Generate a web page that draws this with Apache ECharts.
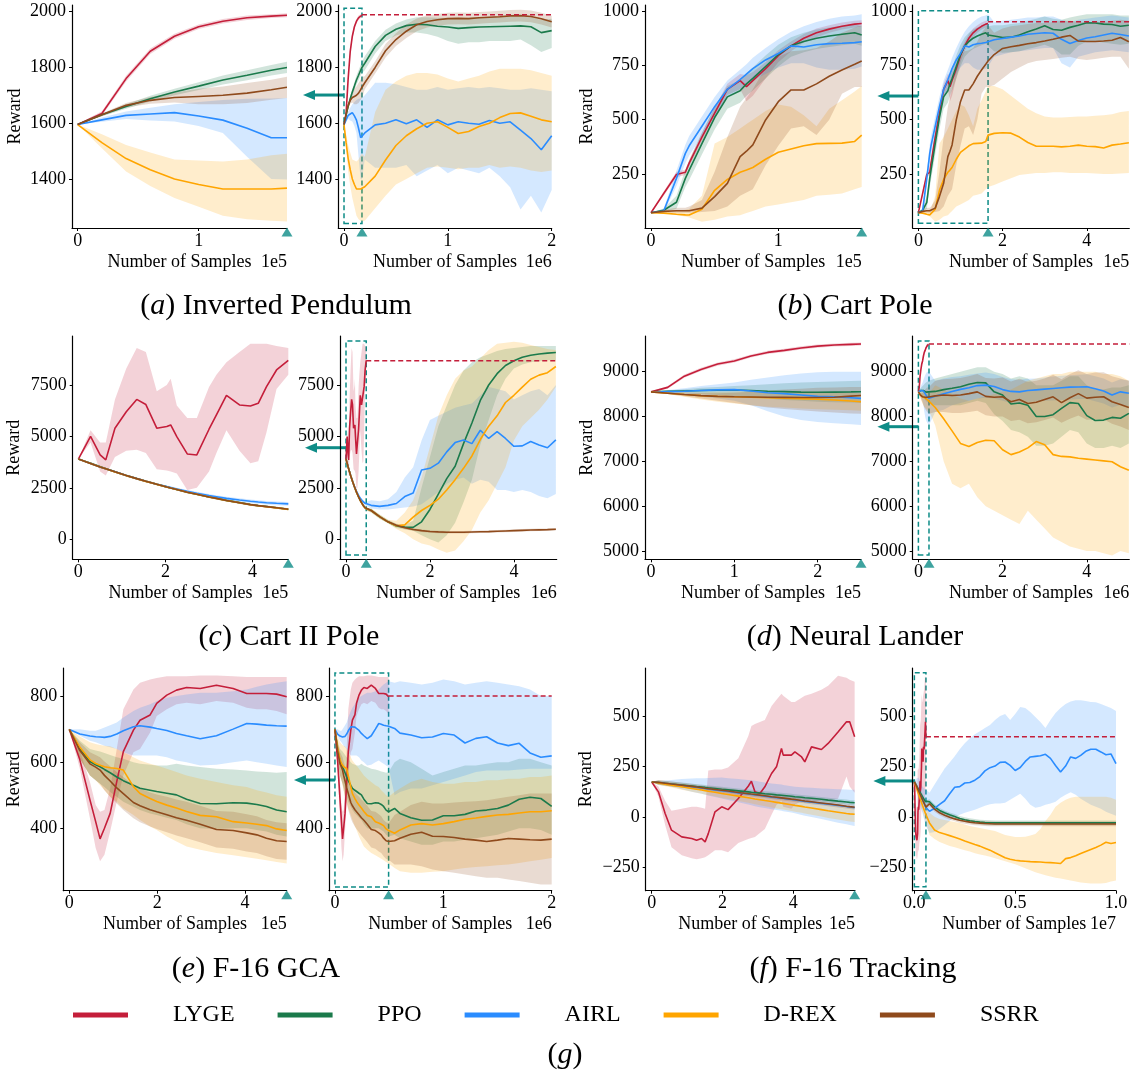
<!DOCTYPE html>
<html>
<head>
<meta charset="utf-8">
<title>Reward curves</title>
<script src="https://cdn.jsdelivr.net/npm/echarts@6/dist/echarts.min.js"></script>
<style>
    html, body { margin: 0; padding: 0; background: #fff; }
    #chart { width: 1135px; height: 1076px; }
</style>
</head>
<body>
<div id="chart"></div>
<script>
// 方法名称与配色
const methods = ['LYGE', 'PPO', 'AIRL', 'D-REX', 'SSRR'];
const methodColors = ['#c41e3a', '#1b7a4b', '#2a8cff', '#ffa500', '#8f4a1c'];
const TEAL = '#0e8c87';
const FONT = '"Liberation Serif", "Times New Roman", serif';
const BAND_ALPHA = 0.2;

// ---------- (a) Inverted Pendulum ----------
const pendZoomX = [0, 20000, 40000, 60000, 80000, 100000, 120000, 140000, 160000, 173000];
const pendZoomMean = [
    [1595, 1635, 1760, 1858, 1912, 1946, 1966, 1978, 1984, 1987],
    [1595, 1630, 1660, 1688, 1712, 1733, 1755, 1772, 1790, 1800],
    [1595, 1612, 1628, 1633, 1638, 1626, 1611, 1582, 1548, 1548],
    [1595, 1530, 1473, 1433, 1400, 1380, 1364, 1364, 1364, 1367],
    [1595, 1630, 1664, 1682, 1692, 1696, 1700, 1708, 1720, 1729]
];
const pendZoomLo = [
    [1593, 1627, 1750, 1848, 1903, 1938, 1958, 1970, 1977, 1980],
    [1595, 1625, 1652, 1678, 1700, 1719, 1739, 1754, 1771, 1780],
    [1595, 1605, 1615, 1610, 1606, 1590, 1565, 1480, 1400, 1398],
    [1595, 1510, 1427, 1375, 1332, 1300, 1268, 1255, 1250, 1247],
    [1595, 1625, 1656, 1670, 1674, 1668, 1668, 1672, 1684, 1690]
];
const pendZoomHi = [
    [1597, 1643, 1770, 1868, 1921, 1954, 1974, 1986, 1991, 1994],
    [1595, 1635, 1668, 1698, 1724, 1747, 1771, 1790, 1809, 1820],
    [1595, 1620, 1642, 1655, 1668, 1676, 1683, 1688, 1689, 1690],
    [1595, 1560, 1522, 1495, 1470, 1466, 1463, 1470, 1485, 1490],
    [1595, 1635, 1672, 1694, 1710, 1724, 1732, 1744, 1756, 1767]
];
const pendTailX = [200000, 300000, 400000, 500000, 600000, 700000, 800000, 900000, 1000000, 1100000, 1200000, 1300000, 1400000, 1500000, 1600000, 1700000, 1800000, 1900000, 2000000];
const pendTailMean = [
    null,
    [1815, 1875, 1915, 1937, 1950, 1955, 1953, 1948, 1945, 1940, 1943, 1945, 1946, 1947, 1948, 1949, 1946, 1925, 1932],
    [1565, 1594, 1600, 1612, 1598, 1612, 1585, 1612, 1594, 1605, 1600, 1596, 1610, 1600, 1605, 1575, 1545, 1505, 1555],
    [1372, 1410, 1468, 1520, 1555, 1580, 1600, 1605, 1585, 1563, 1570, 1588, 1600, 1620, 1635, 1637, 1625, 1612, 1605],
    [1745, 1800, 1860, 1900, 1930, 1953, 1965, 1971, 1975, 1976, 1975, 1978, 1980, 1982, 1985, 1986, 1983, 1975, 1964]
];
const pendTailLo = [
    null,
    [1790, 1850, 1895, 1915, 1925, 1925, 1920, 1910, 1895, 1885, 1890, 1890, 1895, 1895, 1895, 1900, 1880, 1855, 1870],
    [1470, 1440, 1440, 1440, 1450, 1410, 1430, 1450, 1420, 1440, 1430, 1420, 1440, 1410, 1370, 1290, 1340, 1280, 1360],
    [1250, 1295, 1340, 1380, 1400, 1420, 1440, 1445, 1440, 1435, 1440, 1440, 1450, 1440, 1445, 1440, 1430, 1425, 1430],
    [1722, 1778, 1836, 1877, 1906, 1930, 1943, 1950, 1954, 1955, 1954, 1957, 1959, 1961, 1964, 1965, 1962, 1954, 1943]
];
const pendTailHi = [
    null,
    [1840, 1895, 1935, 1958, 1972, 1980, 1980, 1978, 1978, 1976, 1978, 1980, 1982, 1982, 1982, 1982, 1980, 1970, 1975],
    [1700, 1745, 1745, 1740, 1730, 1720, 1720, 1730, 1720, 1725, 1730, 1725, 1730, 1725, 1720, 1720, 1725, 1720, 1715],
    [1480, 1640, 1720, 1750, 1770, 1780, 1780, 1775, 1760, 1750, 1760, 1770, 1785, 1795, 1795, 1795, 1790, 1780, 1770],
    [1768, 1822, 1884, 1923, 1954, 1976, 1987, 1992, 1996, 1997, 1996, 1999, 2001, 2003, 2006, 2007, 2004, 1996, 1985]
];
const pendYTicks = [1400, 1600, 1800, 2000];
const pendZoomTicks = [0, 100000];
const pendFullTicks = [0, 1000000, 2000000];
const pendLevel = 1989;
const pendBox = [1240, 2012];
const pendArrowY = 1701;

// ---------- (b) Cart Pole ----------
const cartZoomX = [0, 10000, 20000, 27000, 30000, 40000, 50000, 60000, 70000, 75000, 80000, 90000, 100000, 110000, 120000, 130000, 140000, 150000, 160000, 165500];
const cartZoomMean = [
    [72, 160, 248, 258, 300, 420, 530, 640, 680, 652, 680, 735, 795, 840, 875, 900, 917, 930, 940, 943],
    [72, 83, 120, 230, 268, 390, 510, 605, 633, 665, 690, 745, 800, 840, 860, 875, 885, 893, 900, 890],
    [72, 80, 230, 345, 380, 470, 560, 640, 685, 710, 735, 775, 805, 840, 835, 845, 850, 852, 855, 859],
    [72, 70, 65, 62, 61, 88, 175, 225, 258, 268, 280, 318, 350, 365, 380, 390, 391, 392, 400, 429],
    [72, 78, 81, 81, 81, 93, 146, 207, 330, 355, 384, 499, 583, 637, 637, 665, 700, 729, 755, 770]
];
const cartZoomLo = [
    [72, 150, 235, 245, 285, 400, 505, 615, 640, 585, 610, 690, 765, 815, 855, 880, 900, 915, 925, 930],
    [72, 75, 90, 190, 223, 340, 455, 550, 578, 610, 635, 690, 745, 790, 810, 825, 835, 843, 850, 840],
    [72, 72, 195, 300, 335, 425, 515, 600, 640, 660, 680, 710, 740, 760, 760, 740, 730, 730, 735, 745],
    [72, 70, 60, 55, 50, 30, 40, 55, 60, 70, 80, 100, 110, 120, 130, 150, 155, 160, 180, 190],
    [72, 72, 72, 72, 72, 75, 80, 100, 150, 165, 180, 290, 380, 460, 470, 430, 500, 620, 650, 650]
];
const cartZoomHi = [
    [72, 170, 260, 270, 315, 440, 555, 665, 710, 705, 720, 765, 820, 860, 895, 920, 935, 948, 955, 958],
    [72, 91, 150, 270, 313, 440, 560, 655, 683, 715, 740, 795, 845, 880, 900, 915, 925, 933, 940, 930],
    [72, 90, 265, 385, 425, 515, 605, 680, 730, 755, 785, 830, 870, 905, 930, 950, 965, 975, 980, 985],
    [72, 72, 80, 85, 90, 150, 390, 420, 460, 480, 500, 540, 570, 560, 520, 470, 550, 590, 630, 655],
    [72, 85, 95, 95, 100, 130, 260, 420, 560, 600, 640, 740, 790, 815, 820, 830, 860, 900, 925, 935]
];
const cartTailX = [180000, 200000, 220000, 240000, 260000, 280000, 300000, 320000, 340000, 360000, 380000, 400000, 420000, 440000, 460000, 480000, 500000];
const cartTailMean = [
    null,
    [885, 878, 880, 890, 905, 918, 932, 915, 912, 925, 935, 946, 945, 940, 938, 930, 935],
    [868, 874, 880, 885, 893, 897, 900, 898, 870, 851, 865, 876, 882, 890, 898, 892, 885],
    [437, 440, 438, 420, 395, 378, 378, 378, 375, 378, 383, 378, 376, 370, 383, 388, 394],
    [800, 828, 836, 842, 850, 855, 862, 870, 880, 888, 862, 860, 860, 862, 866, 878, 859]
];
const cartTailLo = [
    null,
    [815, 808, 810, 815, 825, 835, 845, 830, 800, 800, 840, 860, 860, 855, 850, 845, 850],
    [790, 800, 810, 815, 820, 825, 830, 830, 760, 740, 790, 800, 810, 815, 820, 815, 810],
    [200, 215, 230, 245, 250, 255, 255, 258, 258, 255, 255, 255, 252, 250, 250, 252, 255],
    [660, 690, 720, 740, 760, 770, 775, 780, 785, 790, 780, 775, 780, 785, 790, 790, 735]
];
const cartTailHi = [
    null,
    [935, 935, 940, 945, 955, 965, 975, 965, 960, 970, 978, 985, 985, 985, 985, 980, 980],
    [950, 955, 960, 965, 970, 970, 975, 975, 960, 950, 960, 965, 970, 975, 980, 975, 970],
    [655, 640, 610, 580, 550, 530, 515, 510, 510, 512, 515, 515, 518, 520, 525, 535, 540],
    [900, 920, 930, 935, 940, 945, 945, 950, 955, 955, 950, 950, 950, 950, 955, 960, 955]
];
const cartYTicks = [250, 500, 750, 1000];
const cartZoomTicks = [0, 100000];
const cartFullTicks = [0, 200000, 400000];
const cartLevel = 951;
const cartBox = [23, 1001];
const cartArrowY = 609;

// ---------- (c) Cart II Pole ----------
const cIIZoomX = [0, 28000, 50000, 63000, 84000, 110000, 134000, 155000, 180000, 203000, 212000, 226000, 250000, 272000, 300000, 317000, 340000, 370000, 395000, 413000, 432000, 455000, 482000];
const cIIZoomMean = [
    [3900, 5000, 4100, 3860, 5400, 6200, 6800, 6550, 5400, 5480, 5560, 4990, 4150, 4100, 5350, 6050, 7000, 6530, 6480, 6610, 7420, 8230, 8700],
    [3900, 3692, 3523, 3432, 3283, 3103, 2953, 2823, 2678, 2548, 2498, 2423, 2293, 2193, 2063, 1993, 1893, 1783, 1688, 1638, 1593, 1533, 1463],
    [3900, 3690, 3520, 3430, 3280, 3100, 2950, 2820, 2680, 2560, 2520, 2440, 2330, 2240, 2130, 2070, 1990, 1910, 1850, 1810, 1780, 1750, 1720],
    [3900, 3686, 3516, 3426, 3276, 3096, 2946, 2816, 2671, 2541, 2491, 2416, 2286, 2186, 2056, 1986, 1886, 1776, 1681, 1631, 1586, 1526, 1456],
    [3900, 3690, 3520, 3430, 3280, 3100, 2950, 2820, 2675, 2545, 2495, 2420, 2290, 2190, 2060, 1990, 1890, 1780, 1685, 1635, 1590, 1530, 1460]
];
const cIIZoomLo = [
    [3900, 4700, 3300, 3100, 4000, 4300, 4350, 4200, 3400, 3350, 3300, 3200, 2400, 2500, 3300, 4200, 5300, 4300, 3700, 3800, 5200, 7300, 8000],
    [3900, 3640, 3470, 3380, 3230, 3050, 2900, 2770, 2625, 2495, 2445, 2370, 2240, 2140, 2010, 1940, 1840, 1730, 1635, 1585, 1540, 1480, 1410],
    [3900, 3640, 3470, 3380, 3230, 3050, 2900, 2770, 2630, 2500, 2460, 2380, 2260, 2170, 2060, 1995, 1915, 1830, 1770, 1725, 1695, 1660, 1630],
    [3900, 3640, 3470, 3380, 3230, 3050, 2900, 2770, 2625, 2495, 2445, 2370, 2240, 2140, 2010, 1940, 1840, 1730, 1635, 1585, 1540, 1480, 1410],
    [3900, 3640, 3470, 3380, 3230, 3050, 2900, 2770, 2625, 2495, 2445, 2370, 2240, 2140, 2010, 1940, 1840, 1730, 1635, 1585, 1540, 1480, 1410]
];
const cIIZoomHi = [
    [3900, 5300, 4700, 4700, 6800, 8300, 9300, 9100, 7200, 7500, 7800, 6500, 5900, 5900, 7400, 8000, 8600, 9100, 9500, 9500, 9500, 9400, 9300],
    [3900, 3740, 3570, 3480, 3330, 3150, 3000, 2870, 2725, 2595, 2545, 2470, 2340, 2240, 2110, 2040, 1940, 1830, 1735, 1685, 1640, 1580, 1510],
    [3900, 3740, 3570, 3480, 3330, 3150, 3000, 2870, 2730, 2620, 2580, 2500, 2400, 2310, 2200, 2145, 2065, 1990, 1930, 1895, 1865, 1840, 1810],
    [3900, 3740, 3570, 3480, 3330, 3150, 3000, 2870, 2725, 2595, 2545, 2470, 2340, 2240, 2110, 2040, 1940, 1830, 1735, 1685, 1640, 1580, 1510],
    [3900, 3740, 3570, 3480, 3330, 3150, 3000, 2870, 2725, 2595, 2545, 2470, 2340, 2240, 2110, 2040, 1940, 1830, 1735, 1685, 1640, 1580, 1510]
];
const cIITailX = [600000, 800000, 1000000, 1200000, 1400000, 1600000, 1800000, 2000000, 2200000, 2400000, 2600000, 2800000, 3000000, 3200000, 3400000, 3600000, 3800000, 4000000, 4200000, 4400000, 4600000, 4800000, 5000000];
const cIITailMean = [
    null,
    [1400, 1100, 850, 650, 590, 580, 850, 1450, 2200, 2950, 3550, 4650, 5650, 6750, 7500, 8050, 8450, 8680, 8850, 8950, 9010, 9050, 9080],
    [1650, 1600, 1650, 1740, 2080, 2250, 3370, 3450, 3700, 4250, 4700, 4830, 4650, 5300, 4900, 5230, 4900, 4520, 4540, 4750, 4580, 4450, 4830],
    [1400, 1100, 850, 660, 700, 1080, 1400, 1650, 1950, 2400, 2900, 3450, 4050, 4850, 5500, 6000, 6650, 7000, 7400, 7780, 7980, 8100, 8400],
    [1400, 1100, 850, 680, 560, 480, 420, 380, 360, 345, 340, 345, 355, 365, 375, 390, 405, 420, 435, 450, 460, 470, 490]
];
const cIITailLo = [
    null,
    [1300, 1000, 780, 550, 480, 420, 200, 0, -150, 200, 800, 1800, 2900, 4600, 5800, 7000, 7800, 8300, 8500, 8600, 8650, 8700, 8700],
    [1500, 1450, 1450, 1500, 1550, 1600, 1700, 2000, 2300, 2700, 2900, 3000, 2700, 2900, 2800, 2400, 2400, 2300, 2400, 2300, 2100, 2000, 2200],
    [1300, 1000, 780, 500, 300, 0, -200, -300, -500, -650, -550, -100, 450, 1300, 1900, 2700, 3500, 4800, 5500, 5900, 6300, 6800, 7400],
    [1340, 1040, 790, 620, 500, 420, 360, 320, 300, 285, 280, 285, 295, 305, 315, 330, 345, 360, 375, 390, 400, 410, 430]
];
const cIITailHi = [
    null,
    [1500, 1200, 950, 760, 700, 900, 2500, 4000, 5500, 6500, 7500, 8200, 8600, 8850, 9000, 9150, 9250, 9300, 9350, 9400, 9400, 9400, 9400],
    [1900, 1850, 1950, 2300, 3000, 3500, 4800, 5800, 6000, 6200, 6400, 6500, 6600, 7000, 7400, 7300, 7200, 6800, 7000, 7200, 7300, 7000, 7500],
    [1500, 1200, 950, 900, 1300, 1900, 3000, 4500, 6000, 7000, 7800, 8200, 8400, 8800, 9200, 9500, 9550, 9600, 9550, 9450, 9350, 9250, 9200],
    [1460, 1160, 910, 740, 620, 540, 480, 440, 420, 405, 400, 405, 415, 425, 435, 450, 465, 480, 495, 510, 520, 530, 550]
];
const cIIYTicks = [0, 2500, 5000, 7500];
const cIIZoomTicks = [0, 200000, 400000];
const cIIFullTicks = [0, 2000000, 4000000];
const cIILevel = 8680;
const cIIBox = [-760, 9640];
const cIIArrowY = 4452;

// ---------- (d) Neural Lander ----------
const landZoomX = [0, 20000, 40000, 60000, 80000, 100000, 120000, 140000, 160000, 180000, 200000, 220000, 240000, 252000];
const landZoomMean = [
    [8550, 8650, 8900, 9050, 9170, 9240, 9350, 9430, 9475, 9530, 9570, 9595, 9610, 9617],
    [8550, 8560, 8570, 8580, 8585, 8590, 8580, 8565, 8555, 8545, 8540, 8545, 8550, 8554],
    [8550, 8555, 8565, 8580, 8595, 8600, 8570, 8530, 8510, 8480, 8450, 8440, 8420, 8405],
    [8550, 8520, 8490, 8465, 8450, 8440, 8430, 8420, 8410, 8400, 8385, 8370, 8345, 8330],
    [8550, 8520, 8490, 8465, 8450, 8440, 8435, 8430, 8428, 8425, 8425, 8430, 8455, 8470]
];
const landZoomLo = [
    [8540, 8620, 8865, 9015, 9135, 9205, 9315, 9395, 9440, 9495, 9535, 9560, 9575, 9582],
    [8550, 8540, 8520, 8500, 8480, 8460, 8430, 8400, 8370, 8350, 8330, 8320, 8310, 8300],
    [8550, 8520, 8480, 8440, 8400, 8350, 8250, 8120, 8000, 7920, 7880, 7850, 7830, 7810],
    [8550, 8500, 8440, 8380, 8330, 8290, 8250, 8220, 8200, 8180, 8160, 8150, 8140, 8130],
    [8550, 8500, 8450, 8400, 8350, 8300, 8250, 8200, 8170, 8140, 8110, 8090, 8070, 8060]
];
const landZoomHi = [
    [8560, 8680, 8935, 9085, 9205, 9275, 9385, 9465, 9510, 9565, 9605, 9630, 9645, 9652],
    [8550, 8580, 8610, 8640, 8660, 8680, 8700, 8720, 8740, 8760, 8770, 8780, 8790, 8800],
    [8550, 8590, 8630, 8680, 8720, 8760, 8820, 8870, 8920, 8960, 8990, 9000, 9000, 9000],
    [8550, 8540, 8540, 8540, 8550, 8560, 8570, 8570, 8570, 8560, 8550, 8540, 8530, 8520],
    [8550, 8540, 8530, 8520, 8520, 8530, 8550, 8580, 8600, 8620, 8640, 8650, 8660, 8660]
];
const landTailX = [400000, 600000, 800000, 1000000, 1200000, 1400000, 1600000, 1800000, 2000000, 2200000, 2400000, 2600000, 2800000, 3000000, 3200000, 3400000, 3600000, 3800000, 4000000, 4200000, 4400000, 4600000, 4800000, 5000000];
const landTailMean = [
    null,
    [8560, 8600, 8630, 8665, 8720, 8760, 8750, 8550, 8480, 8280, 8300, 8250, 8000, 8000, 8040, 8180, 8310, 8290, 8020, 7910, 7920, 7980, 7960, 8070],
    [8450, 8510, 8560, 8606, 8640, 8690, 8700, 8670, 8600, 8560, 8550, 8580, 8595, 8610, 8625, 8640, 8655, 8660, 8665, 8620, 8570, 8480, 8550, 8520],
    [8200, 7950, 7680, 7400, 7330, 7420, 7470, 7460, 7260, 7150, 7210, 7300, 7440, 7370, 7150, 7110, 7100, 7070, 7050, 7030, 7010, 6990, 6880, 6800],
    [8460, 8480, 8470, 8480, 8510, 8550, 8450, 8430, 8440, 8330, 8380, 8290, 8320, 8380, 8440, 8310, 8420, 8510, 8410, 8430, 8440, 8330, 8270, 8200]
];
const landTailLo = [
    null,
    [8250, 8250, 8250, 8250, 8300, 8350, 8300, 8050, 7900, 7700, 7650, 7550, 7350, 7350, 7400, 7550, 7700, 7650, 7400, 7300, 7300, 7350, 7300, 7400],
    [8100, 8150, 8250, 8300, 8350, 8400, 8420, 8400, 8350, 8300, 8300, 8320, 8340, 8350, 8360, 8370, 8380, 8390, 8390, 8340, 8290, 8200, 8260, 8230],
    [7800, 7000, 6500, 6400, 6500, 6200, 6000, 5900, 5800, 5700, 5600, 5900, 5700, 5500, 5300, 5200, 5100, 5050, 5000, 5000, 4950, 4900, 5000, 4950],
    [8100, 8100, 8080, 8080, 8100, 8130, 8030, 8000, 8000, 7900, 7930, 7850, 7870, 7920, 7980, 7860, 7950, 8020, 7930, 7940, 7940, 7840, 7780, 7700]
];
const landTailHi = [
    null,
    [8850, 8900, 8950, 9000, 9050, 9100, 9100, 9000, 8950, 8850, 8900, 8850, 8700, 8700, 8700, 8800, 8900, 8900, 8700, 8600, 8600, 8650, 8650, 8700],
    [8800, 8850, 8880, 8900, 8930, 8960, 8980, 8950, 8880, 8830, 8820, 8840, 8850, 8870, 8890, 8910, 8920, 8930, 8940, 8900, 8850, 8760, 8830, 8800],
    [8700, 8600, 8500, 8400, 8350, 8400, 8450, 8500, 8550, 8600, 8700, 8800, 8850, 8900, 8950, 8950, 9000, 9000, 9000, 9000, 8950, 8950, 8900, 8800],
    [8800, 8830, 8840, 8860, 8900, 8950, 8860, 8850, 8870, 8780, 8840, 8770, 8800, 8850, 8930, 8830, 8950, 9030, 8950, 8980, 8990, 8900, 8850, 8800]
];
const landYTicks = [5000, 6000, 7000, 8000, 9000];
const landZoomTicks = [0, 100000, 200000];
const landFullTicks = [0, 2000000, 4000000];
const landLevel = 9617;
const landBox = [4911, 9684];
const landArrowY = 7773;

// ---------- (e) F-16 GCA ----------
const gcaZoomX = [0, 24000, 47000, 60000, 70000, 80000, 93000, 108000, 123000, 146000, 161000, 184000, 199000, 222000, 244000, 267000, 298000, 335000, 373000, 404000, 427000, 449000, 472000, 495000];
const gcaZoomMean = [
    [699, 607, 486, 420, 368, 400, 445, 541, 632, 697, 727, 743, 778, 803, 818, 826, 823, 833, 823, 808, 808, 808, 806, 798],
    [699, 640, 602, 592, 586, 578, 568, 555, 544, 530, 521, 515, 511, 506, 501, 488, 475, 474, 477, 476, 472, 466, 455, 450],
    [699, 685, 679, 677, 676, 675, 678, 685, 695, 707, 710, 706, 702, 696, 687, 680, 671, 680, 700, 717, 715, 712, 710, 709],
    [699, 645, 607, 596, 591, 586, 583, 581, 576, 526, 505, 490, 481, 470, 461, 451, 439, 435, 420, 416, 412, 408, 398, 393],
    [699, 635, 595, 585, 576, 560, 543, 522, 505, 478, 468, 456, 450, 441, 432, 424, 412, 396, 393, 386, 380, 370, 362, 360]
];
const gcaZoomLo = [
    [699, 580, 430, 340, 300, 320, 390, 480, 560, 630, 640, 690, 740, 760, 775, 780, 775, 785, 780, 765, 760, 760, 755, 745],
    [699, 610, 560, 545, 535, 525, 510, 495, 480, 465, 455, 445, 440, 432, 425, 412, 400, 398, 400, 400, 395, 390, 380, 375],
    [699, 680, 665, 660, 655, 650, 645, 640, 630, 620, 620, 620, 620, 615, 605, 600, 590, 592, 600, 605, 600, 595, 590, 585],
    [699, 610, 560, 545, 530, 515, 495, 480, 460, 440, 425, 405, 395, 375, 360, 345, 335, 325, 318, 312, 308, 303, 298, 293],
    [699, 610, 560, 545, 535, 515, 495, 475, 455, 430, 418, 405, 398, 388, 378, 370, 358, 342, 338, 330, 325, 315, 307, 305]
];
const gcaZoomHi = [
    [699, 635, 540, 470, 450, 455, 520, 640, 760, 820, 840, 850, 855, 860, 860, 860, 862, 862, 860, 858, 858, 858, 858, 858],
    [699, 665, 640, 635, 632, 628, 622, 615, 610, 600, 595, 592, 590, 590, 595, 590, 585, 580, 578, 575, 572, 570, 568, 570],
    [699, 700, 695, 695, 700, 705, 712, 720, 735, 755, 765, 775, 785, 795, 800, 805, 810, 810, 815, 820, 828, 835, 840, 845],
    [699, 678, 660, 655, 652, 650, 648, 640, 630, 615, 605, 595, 590, 580, 570, 560, 550, 540, 530, 525, 515, 508, 500, 495],
    [699, 660, 630, 622, 615, 602, 588, 570, 555, 530, 520, 508, 502, 495, 487, 480, 468, 452, 450, 442, 436, 425, 418, 415]
];
const gcaTailX = [550000, 600000, 700000, 800000, 900000, 1000000, 1100000, 1200000, 1300000, 1400000, 1500000, 1600000, 1700000, 1800000, 1900000, 2000000];
const gcaTailMean = [
    null,
    [460, 445, 432, 424, 425, 438, 438, 442, 452, 455, 460, 470, 488, 494, 490, 466],
    [702, 688, 682, 674, 676, 687, 682, 658, 672, 677, 658, 650, 657, 628, 615, 619],
    [385, 395, 410, 414, 410, 414, 420, 427, 431, 436, 440, 442, 446, 450, 450, 453],
    [362, 370, 382, 388, 376, 375, 372, 367, 364, 360, 364, 369, 367, 365, 364, 367]
];
const gcaTailLo = [
    null,
    [380, 370, 360, 350, 350, 360, 360, 365, 370, 375, 380, 390, 400, 400, 395, 380],
    [500, 510, 520, 520, 530, 540, 550, 560, 570, 575, 575, 575, 578, 580, 580, 580],
    [280, 270, 265, 265, 268, 270, 275, 280, 283, 285, 288, 290, 295, 300, 305, 310],
    [290, 290, 290, 285, 275, 270, 265, 260, 255, 250, 250, 245, 240, 235, 230, 230]
];
const gcaTailHi = [
    null,
    [600, 610, 600, 580, 560, 570, 580, 590, 590, 595, 600, 600, 610, 610, 600, 590],
    [840, 845, 840, 835, 840, 850, 845, 835, 840, 845, 840, 835, 830, 820, 800, 800],
    [510, 520, 540, 550, 540, 535, 535, 540, 540, 545, 545, 550, 550, 555, 555, 560],
    [440, 450, 470, 480, 475, 475, 478, 480, 482, 485, 490, 495, 500, 505, 505, 505]
];
const gcaYTicks = [400, 600, 800];
const gcaZoomTicks = [0, 200000, 400000];
const gcaFullTicks = [0, 1000000, 2000000];
const gcaLevel = 800;
const gcaBox = [222, 870];
const gcaArrowY = 546;

// ---------- (f) F-16 Tracking ----------
const trackZoomX = [0, 19000, 38000, 56000, 85000, 113000, 127000, 141000, 151000, 160000, 179000, 198000, 216000, 245000, 273000, 282000, 292000, 306000, 320000, 339000, 353000, 367000, 372000, 395000, 405000, 424000, 433000, 452000, 480000, 499000, 527000, 551000, 560000, 574000];
const trackZoomMean = [
    [173, 124, 17, -66, -99, -107, -116, -107, -124, -83, 25, 50, 36, 91, 152, 177, 124, 116, 149, 215, 248, 339, 306, 306, 322, 297, 273, 347, 334, 364, 421, 471, 471, 397],
    [173, 170, 166, 163, 158, 153, 150, 148, 146, 144, 141, 137, 134, 129, 124, 122, 120, 118, 115, 112, 109, 107, 106, 102, 100, 97, 95, 92, 87, 83, 78, 74, 72, 70],
    [173, 169, 165, 161, 155, 149, 146, 143, 140, 138, 134, 130, 126, 119, 113, 111, 109, 106, 103, 98, 95, 92, 91, 86, 84, 79, 77, 73, 67, 63, 57, 51, 49, 46],
    [173, 168, 162, 157, 149, 141, 137, 133, 130, 127, 122, 116, 111, 103, 95, 92, 89, 85, 81, 76, 72, 68, 66, 60, 57, 52, 49, 44, 36, 30, 23, 17, 15, 13],
    [173, 171, 167, 163, 157, 151, 148, 145, 142, 140, 136, 132, 128, 121, 115, 113, 111, 108, 105, 100, 97, 94, 93, 88, 86, 81, 79, 75, 69, 65, 59, 53, 51, 48]
];
const trackZoomLo = [
    [173, 100, -40, -150, -190, -205, -210, -205, -200, -190, -165, -165, -175, -130, -110, -105, -100, -80, -60, 10, 60, 80, 50, 40, 60, 80, 70, 80, 80, 80, 90, 200, 150, 120],
    [173, 158, 154, 151, 146, 141, 138, 136, 134, 132, 129, 125, 122, 117, 112, 110, 108, 106, 103, 100, 97, 95, 94, 90, 88, 85, 83, 80, 75, 71, 66, 62, 60, 58],
    [173, 165, 157, 149, 137, 125, 119, 114, 110, 106, 98, 91, 84, 72, 61, 57, 53, 48, 44, 38, 34, 30, 28, 22, 18, 9, 6, -1, -11, -18, -29, -37, -40, -45],
    [173, 160, 152, 145, 135, 125, 120, 115, 111, 107, 101, 94, 88, 79, 70, 66, 63, 58, 53, 47, 42, 38, 36, 29, 26, 20, 17, 11, 2, -5, -13, -20, -23, -26],
    [173, 159, 155, 151, 145, 139, 136, 133, 130, 128, 124, 120, 116, 109, 103, 101, 99, 96, 93, 88, 85, 82, 81, 76, 74, 69, 67, 63, 57, 53, 47, 41, 39, 36]
];
const trackZoomHi = [
    [173, 150, 80, 30, 40, 50, 50, 45, 40, 230, 235, 235, 245, 290, 400, 450, 460, 470, 480, 550, 580, 610, 600, 570, 570, 590, 600, 610, 630, 650, 700, 690, 680, 670],
    [173, 182, 178, 175, 170, 165, 162, 160, 158, 156, 153, 149, 146, 141, 136, 134, 132, 130, 127, 124, 121, 119, 118, 114, 112, 109, 107, 104, 99, 95, 90, 86, 84, 82],
    [173, 177, 180, 183, 188, 190, 191, 192, 192, 193, 194, 195, 192, 188, 183, 181, 179, 174, 171, 166, 163, 160, 158, 152, 149, 147, 146, 144, 141, 139, 137, 136, 135, 135],
    [173, 176, 172, 169, 163, 157, 154, 151, 149, 147, 143, 138, 134, 127, 120, 118, 115, 112, 109, 105, 102, 98, 96, 91, 88, 84, 81, 77, 70, 65, 59, 54, 53, 52],
    [173, 183, 179, 175, 169, 163, 160, 157, 154, 152, 148, 144, 140, 133, 127, 125, 123, 120, 117, 112, 109, 106, 105, 100, 98, 93, 91, 87, 81, 77, 71, 65, 63, 60]
];
const trackTailX = [750000, 1000000, 1250000, 1500000, 1750000, 2000000, 2250000, 2500000, 2750000, 3000000, 3250000, 3500000, 3750000, 4000000, 4250000, 4500000, 4750000, 5000000, 5250000, 5500000, 5750000, 6000000, 6250000, 6500000, 6750000, 7000000, 7250000, 7500000, 7750000, 8000000, 8250000, 8500000, 8750000, 9000000, 9250000, 9500000, 9750000, 10000000];
const trackTailMean = [
    null,
    [75, 50, 32, 20, 10, 2, -8, -14, -19, -23, -26, -28, -29, -30, -30, -30, -30, -30, -30, -30, -30, -30, -30, -30, -30, -30, -30, -30, -30, -30, -30, -30, -30, -30, -30, -30, -30, -30],
    [28, 42, 62, 80, 115, 147, 150, 168, 170, 182, 200, 228, 244, 252, 270, 272, 255, 230, 245, 275, 297, 300, 303, 310, 290, 255, 222, 252, 297, 290, 305, 325, 335, 335, 322, 308, 312, 264],
    [-30, -65, -78, -85, -93, -101, -110, -120, -128, -137, -145, -155, -165, -178, -190, -203, -210, -215, -218, -220, -222, -223, -224, -226, -227, -229, -231, -207, -202, -193, -182, -172, -162, -152, -140, -126, -132, -127],
    [65, 38, 20, 8, -2, -10, -17, -22, -26, -29, -31, -33, -34, -35, -35, -35, -35, -35, -35, -35, -35, -35, -35, -35, -35, -35, -35, -35, -35, -35, -35, -35, -35, -35, -35, -35, -35, -35]
];
const trackTailLo = [
    null,
    [63, 38, 20, 8, -2, -10, -20, -26, -31, -35, -38, -40, -41, -42, -42, -42, -42, -42, -42, -42, -42, -42, -42, -42, -42, -42, -42, -42, -42, -42, -42, -42, -42, -42, -42, -42, -42, -42],
    [-80, -75, -60, -40, -20, 0, 10, 20, 28, 35, 45, 55, 62, 66, 66, 70, 85, 100, 115, 90, 60, 45, 50, 60, 66, 75, 95, 110, 122, 110, 90, 75, 60, 50, 40, 25, 15, 5],
    [-90, -110, -125, -135, -145, -150, -158, -165, -172, -180, -186, -192, -198, -205, -212, -220, -228, -235, -245, -255, -265, -275, -282, -290, -296, -302, -306, -310, -315, -320, -325, -328, -330, -330, -330, -328, -320, -315],
    [53, 26, 8, -4, -14, -22, -29, -34, -38, -41, -43, -45, -46, -47, -47, -47, -47, -47, -47, -47, -47, -47, -47, -47, -47, -47, -47, -47, -47, -47, -47, -47, -47, -47, -47, -47, -47, -47]
];
const trackTailHi = [
    null,
    [87, 62, 44, 32, 22, 14, 4, -2, -7, -11, -14, -16, -17, -18, -18, -18, -18, -18, -18, -18, -18, -18, -18, -18, -18, -18, -18, -18, -18, -18, -18, -18, -18, -18, -18, -18, -18, -18],
    [120, 160, 200, 240, 270, 300, 335, 365, 390, 410, 425, 440, 455, 480, 500, 510, 480, 510, 545, 540, 520, 495, 470, 440, 480, 515, 540, 560, 572, 578, 578, 575, 570, 568, 560, 550, 540, 525],
    [20, 0, -10, -15, -20, -25, -30, -38, -45, -50, -55, -60, -65, -70, -80, -90, -95, -100, -100, -98, -92, -85, -60, -20, 10, 50, 70, 85, 95, 100, 100, 100, 100, 100, 100, 100, 95, 85],
    [77, 50, 32, 20, 10, 2, -5, -10, -14, -17, -19, -21, -22, -23, -23, -23, -23, -23, -23, -23, -23, -23, -23, -23, -23, -23, -23, -23, -23, -23, -23, -23, -23, -23, -23, -23, -23, -23]
];
const trackYTicks = [-250, 0, 250, 500];
const trackZoomTicks = [0, 200000, 400000];
const trackFullTicks = [0, 5000000, 10000000];
const trackLevel = 397;
const trackBox = [-347, 715];
const trackArrowY = 178;

// 行的上下边界（像素）
const rowsPx = [[5, 228], [336, 559.3], [668, 890.7]];

// 每个环境的布局与数据引用
const envs = [
    {
        letter: 'a', title: 'Inverted Pendulum', row: 0, captionX: 276,
        zoomX: pendZoomX, zoomMean: pendZoomMean, zoomLo: pendZoomLo, zoomHi: pendZoomHi,
        tailX: pendTailX, tailMean: pendTailMean, tailLo: pendTailLo, tailHi: pendTailHi,
        yRange: [1224, 2024], yTicks: pendYTicks, level: pendLevel, box: pendBox, arrowY: pendArrowY,
        left: { px: [72, 287], xRange: [-4700, 173000], ticks: pendZoomTicks, unit: 1e5, unitText: '1e5', nameGap: 48 },
        right: { px: [338.3, 551.7], xRange: [-55000, 2000000], ticks: pendFullTicks, unit: 1e6, unitText: '1e6' }
    },
    {
        letter: 'b', title: 'Cart Pole', row: 0, captionX: 855,
        zoomX: cartZoomX, zoomMean: cartZoomMean, zoomLo: cartZoomLo, zoomHi: cartZoomHi,
        tailX: cartTailX, tailMean: cartTailMean, tailLo: cartTailLo, tailHi: cartTailHi,
        yRange: [1.5, 1028], yTicks: cartYTicks, level: cartLevel, box: cartBox, arrowY: cartArrowY,
        left: { px: [645, 861.7], xRange: [-4700, 165500], ticks: cartZoomTicks, unit: 1e5, unitText: '1e5', nameGap: 49 },
        right: { px: [912.7, 1129.3], xRange: [-13500, 501000], ticks: cartFullTicks, unit: 1e5, unitText: '1e5' }
    },
    {
        letter: 'c', title: 'Cart II Pole', row: 1, captionX: 289,
        zoomX: cIIZoomX, zoomMean: cIIZoomMean, zoomLo: cIIZoomLo, zoomHi: cIIZoomHi,
        tailX: cIITailX, tailMean: cIITailMean, tailLo: cIITailLo, tailHi: cIITailHi,
        yRange: [-972, 9882], yTicks: cIIYTicks, level: cIILevel, box: cIIBox, arrowY: cIIArrowY,
        left: { px: [72.7, 288.3], xRange: [-13000, 482000], ticks: cIIZoomTicks, unit: 1e5, unitText: '1e5', nameGap: 49 },
        right: { px: [340, 556.7], xRange: [-143000, 5020000], ticks: cIIFullTicks, unit: 1e6, unitText: '1e6' }
    },
    {
        letter: 'd', title: 'Neural Lander', row: 1, captionX: 855,
        zoomX: landZoomX, zoomMean: landZoomMean, zoomLo: landZoomLo, zoomHi: landZoomHi,
        tailX: landTailX, tailMean: landTailMean, tailLo: landTailLo, tailHi: landTailHi,
        yRange: [4815, 9796], yTicks: landYTicks, level: landLevel, box: landBox, arrowY: landArrowY,
        left: { px: [645, 861], xRange: [-7200, 252000], ticks: landZoomTicks, unit: 1e5, unitText: '1e5', nameGap: 49 },
        right: { px: [912.7, 1129.3], xRange: [-135000, 5010000], ticks: landFullTicks, unit: 1e6, unitText: '1e6' }
    },
    {
        letter: 'e', title: 'F-16 GCA', row: 2, captionX: 256,
        zoomX: gcaZoomX, zoomMean: gcaZoomMean, zoomLo: gcaZoomLo, zoomHi: gcaZoomHi,
        tailX: gcaTailX, tailMean: gcaTailMean, tailLo: gcaTailLo, tailHi: gcaTailHi,
        yRange: [211, 885], yTicks: gcaYTicks, level: gcaLevel, box: gcaBox, arrowY: gcaArrowY,
        left: { px: [63.3, 286.7], xRange: [-13700, 495000], ticks: gcaZoomTicks, unit: 1e5, unitText: '1e5', nameGap: 40 },
        right: { px: [329, 551.7], xRange: [-55000, 2000000], ticks: gcaFullTicks, unit: 1e6, unitText: '1e6' }
    },
    {
        letter: 'f', title: 'F-16 Tracking', row: 2, captionX: 853,
        zoomX: trackZoomX, zoomMean: trackZoomMean, zoomLo: trackZoomLo, zoomHi: trackZoomHi,
        tailX: trackTailX, tailMean: trackTailMean, tailLo: trackTailLo, tailHi: trackTailHi,
        yRange: [-366, 738], yTicks: trackYTicks, level: trackLevel, box: trackBox, arrowY: trackArrowY,
        left: { px: [645.7, 855], xRange: [-17000, 575000], ticks: trackZoomTicks, unit: 1e5, unitText: '1e5', nameGap: 50 },
        right: { px: [912.7, 1116], xRange: [-83000, 10000000], ticks: trackFullTicks, unit: 1e7, unitText: '1e7', decimals: 1 }
    }
];

// 颜色转 rgba
function hexToRgba(hex, a) {
    const n = parseInt(hex.slice(1), 16);
    return `rgba(${(n >> 16) & 255}, ${(n >> 8) & 255}, ${n & 255}, ${a})`;
}

function pairs(xs, ys) {
    return xs.map((x, i) => [x, ys[i]]);
}

function triples(xs, lo, hi) {
    return xs.map((x, i) => [x, lo[i], hi[i]]);
}

// 置信带：用 custom 系列画一个多边形
function bandSeries(points, color, gi) {
    return {
        type: 'custom',
        xAxisIndex: gi,
        yAxisIndex: gi,
        data: points,
        encode: { x: 0, y: [1, 2] },
        clip: true,
        silent: true,
        z: 1,
        renderItem: (params, api) => {
            if (params.dataIndex !== 0) return null;
            const upper = points.map(p => api.coord([p[0], p[2]]));
            const lower = points.map(p => api.coord([p[0], p[1]])).reverse();
            return {
                type: 'polygon',
                shape: { points: upper.concat(lower) },
                style: { fill: hexToRgba(color, BAND_ALPHA) }
            };
        }
    };
}

function lineSeries(name, points, color, gi, lineType) {
    return {
        type: 'line',
        name: name,
        xAxisIndex: gi,
        yAxisIndex: gi,
        data: points,
        showSymbol: false,
        symbol: 'none',
        silent: true,
        z: 3,
        lineStyle: { color: color, width: 1.6, type: lineType || 'solid' },
        itemStyle: { color: color },
        emphasis: { disabled: true }
    };
}

// 放大区间末端的三角标记
function triangleSeries(gi, point, extra) {
    return Object.assign({
        type: 'scatter',
        xAxisIndex: gi,
        yAxisIndex: gi,
        data: [point],
        symbol: 'triangle',
        symbolSize: [11, 9],
        symbolOffset: [0, 4],
        itemStyle: { color: TEAL },
        clip: false,
        silent: true,
        z: 5
    }, extra || {});
}

function tickFormatter(unit, decimals) {
    return v => (decimals ? (v / unit).toFixed(decimals) : String(Math.round(v / unit * 100) / 100));
}

function yFormatter(v) {
    return v < 0 ? '\u2212' + Math.abs(v) : String(v);
}

const axisText = { fontFamily: FONT, fontSize: 18, color: '#000' };

const grids = [];
const xAxes = [];
const yAxes = [];
const series = [];

envs.forEach((env, i) => {
    const rowPx = rowsPx[env.row];
    const zoomEnd = env.zoomX[env.zoomX.length - 1];

    [env.left, env.right].forEach((side, s) => {
        const gi = i * 2 + s;
        grids.push({
            left: side.px[0],
            top: rowPx[0],
            width: side.px[1] - side.px[0],
            height: rowPx[1] - rowPx[0],
            containLabel: false,
            outerBoundsMode: 'none'
        });
        xAxes.push({
            type: 'value',
            gridIndex: gi,
            min: side.xRange[0],
            max: side.xRange[1],
            axisLine: { show: true, onZero: false, lineStyle: { color: '#000', width: 1.2 } },
            axisTick: { show: true, length: 3, customValues: side.ticks, lineStyle: { color: '#000' } },
            axisLabel: Object.assign({ customValues: side.ticks, margin: 4, formatter: tickFormatter(side.unit, side.decimals) }, axisText),
            splitLine: { show: false },
            name: 'Number of Samples',
            nameLocation: 'middle',
            nameGap: 25,
            nameTextStyle: axisText
        });
        yAxes.push({
            type: 'value',
            gridIndex: gi,
            min: env.yRange[0],
            max: env.yRange[1],
            axisLine: { show: true, onZero: false, lineStyle: { color: '#000', width: 1.2 } },
            axisTick: { show: true, length: 3, customValues: env.yTicks, lineStyle: { color: '#000' } },
            axisLabel: Object.assign({ customValues: env.yTicks, margin: 6, formatter: yFormatter }, axisText),
            splitLine: { show: false },
            name: s === 0 ? 'Reward' : '',
            nameLocation: 'middle',
            nameRotate: 90,
            nameGap: side.nameGap || 48,
            nameTextStyle: axisText
        });
    });

    const gl = i * 2;
    const gr = i * 2 + 1;

    // 左图：前段放大
    methods.forEach((m, k) => {
        series.push(bandSeries(triples(env.zoomX, env.zoomLo[k], env.zoomHi[k]), methodColors[k], gl));
    });
    methods.forEach((m, k) => {
        series.push(lineSeries(m, pairs(env.zoomX, env.zoomMean[k]), methodColors[k], gl));
    });

    // 右图：完整训练过程（LYGE 只画放大区间）
    methods.forEach((m, k) => {
        if (k === 0) {
            series.push(bandSeries(triples(env.zoomX, env.zoomLo[0], env.zoomHi[0]), methodColors[0], gr));
        } else {
            const xs = env.zoomX.concat(env.tailX);
            series.push(bandSeries(triples(xs, env.zoomLo[k].concat(env.tailLo[k]), env.zoomHi[k].concat(env.tailHi[k])), methodColors[k], gr));
        }
    });
    methods.forEach((m, k) => {
        if (k === 0) {
            series.push(lineSeries(m, pairs(env.zoomX, env.zoomMean[0]), methodColors[0], gr));
        } else {
            const xs = env.zoomX.concat(env.tailX);
            series.push(lineSeries(m, pairs(xs, env.zoomMean[k].concat(env.tailMean[k])), methodColors[k], gr));
        }
    });

    // LYGE 收敛值的虚线
    const level = lineSeries('', [[zoomEnd, env.level], [env.right.xRange[1], env.level]], methodColors[0], gr, [5, 3]);
    level.lineStyle.width = 1.5;
    series.push(level);

    // 三角标记与虚线框
    series.push(triangleSeries(gl, [zoomEnd, env.yRange[0]]));
    series.push(triangleSeries(gr, [zoomEnd, env.yRange[0]], {
        markArea: {
            silent: true,
            label: { show: false },
            itemStyle: { color: 'rgba(0,0,0,0)', borderColor: TEAL, borderWidth: 1.5, borderType: [5, 3] },
            data: [[{ coord: [0, env.box[0]] }, { coord: [zoomEnd, env.box[1]] }]]
        }
    }));
});

const chart = echarts.init(document.getElementById('chart'), null, { renderer: 'canvas' });

chart.setOption({
    animation: false,
    backgroundColor: '#fff',
    textStyle: { fontFamily: FONT },
    grid: grids,
    xAxis: xAxes,
    yAxis: yAxes,
    series: series,
    legend: {
        data: methods,
        left: 68,
        top: 998,
        icon: 'rect',
        itemWidth: 55,
        itemHeight: 5,
        itemGap: 43,
        selectedMode: false,
        textStyle: { fontFamily: FONT, fontSize: 24, color: '#000', padding: [0, 0, 0, 40] }
    }
});

// 标题、量级文字与箭头
const graphics = [];
const captionRich = {
    p: { fontFamily: FONT, fontSize: 30, fill: '#000' },
    i: { fontFamily: FONT, fontSize: 30, fill: '#000', fontStyle: 'italic' }
};

envs.forEach((env, i) => {
    const rowPx = rowsPx[env.row];
    graphics.push({
        type: 'text',
        x: env.captionX,
        y: rowPx[1] + 78,
        style: {
            text: `{p|(}{i|${env.letter}}{p|) ${env.title}}`,
            rich: captionRich,
            fontFamily: FONT,
            fontSize: 30,
            align: 'center',
            verticalAlign: 'middle'
        }
    });
    [env.left, env.right].forEach(side => {
        graphics.push({
            type: 'text',
            x: side.px[1],
            y: rowPx[1] + 25,
            style: { text: side.unitText, fontFamily: FONT, fontSize: 18, fill: '#000', align: 'right', verticalAlign: 'top' }
        });
    });
    const p = chart.convertToPixel({ gridIndex: i * 2 + 1 }, [0, env.arrowY]);
    graphics.push({
        type: 'group',
        children: [
            { type: 'line', shape: { x1: p[0], y1: p[1], x2: p[0] - 30, y2: p[1] }, style: { stroke: TEAL, lineWidth: 3 } },
            { type: 'polygon', shape: { points: [[p[0] - 41, p[1]], [p[0] - 29, p[1] - 5], [p[0] - 29, p[1] + 5]] }, style: { fill: TEAL } }
        ]
    });
});

graphics.push({
    type: 'text',
    x: 565,
    y: 1055,
    style: { text: '{p|(}{i|g}{p|)}', rich: captionRich, fontFamily: FONT, fontSize: 30, align: 'center', verticalAlign: 'middle' }
});

chart.setOption({ graphic: graphics });
</script>
</body>
</html>
